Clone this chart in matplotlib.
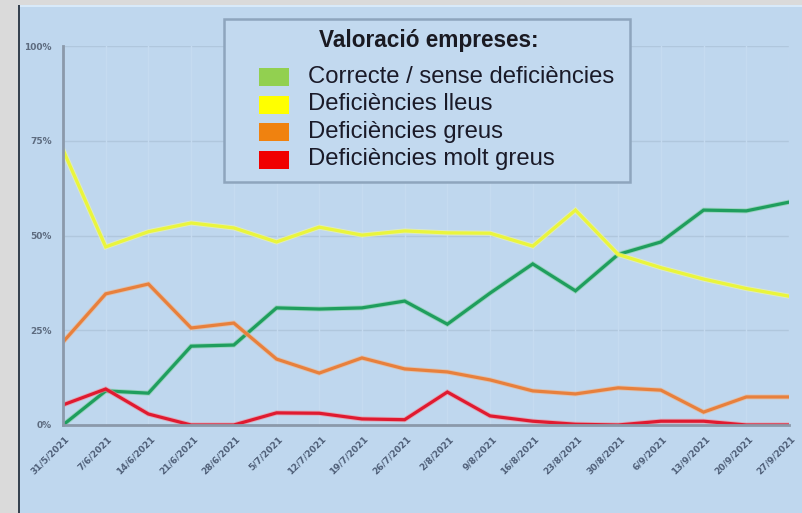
import matplotlib
matplotlib.use("Agg")
import matplotlib.pyplot as plt
from matplotlib.patches import Rectangle
from matplotlib.transforms import ScaledTranslation
import matplotlib.patheffects as pe

dates = ["31/5/2021", "7/6/2021", "14/6/2021", "21/6/2021", "28/6/2021", "5/7/2021",
         "12/7/2021", "19/7/2021", "26/7/2021", "2/8/2021", "9/8/2021", "16/8/2021",
         "23/8/2021", "30/8/2021", "6/9/2021", "13/9/2021", "20/9/2021", "27/9/2021"]

correcte = [0.0, 9.0, 8.4, 20.8, 21.1, 30.9, 30.6, 30.9, 32.7, 26.6, 34.8, 42.5,
            35.4, 45.0, 48.3, 56.7, 56.5, 58.8]
lleus = [72.6, 47.0, 51.0, 53.3, 52.0, 48.3, 52.2, 50.1, 51.2, 50.7, 50.6, 47.2,
         56.7, 45.0, 41.5, 38.5, 36.0, 34.0]
greus = [21.9, 34.6, 37.2, 25.6, 26.9, 17.4, 13.7, 17.7, 14.8, 14.0, 11.9, 9.0,
         8.2, 9.8, 9.2, 3.4, 7.4, 7.4]
molt_greus = [5.3, 9.5, 2.9, 0.0, 0.0, 3.2, 3.1, 1.6, 1.4, 8.7, 2.4, 1.0,
              0.2, 0.0, 1.0, 1.0, 0.0, 0.0]

yticks = [0, 25, 50, 75, 100]
ytick_labels = ["0%", "25%", "50%", "75%", "100%"]

legend_title = "Valoració empreses:"
legend_labels = ["Correcte / sense deficiències", "Deficiències lleus",
                 "Deficiències greus", "Deficiències molt greus"]
legend_colors = ["#92D050", "#FFFF00", "#F0820F", "#F00000"]

W, H = 802, 513
fig = plt.figure(figsize=(W / 100, H / 100), dpi=100)
fig.patch.set_facecolor("#dadada")

def px_rect(x0, y0, x1, y1, **kw):
    r = Rectangle((x0 / W, 1 - y1 / H), (x1 - x0) / W, (y1 - y0) / H,
                  transform=fig.transFigure, **kw)
    fig.add_artist(r)
    return r

# panel
px_rect(18, 5, 802, 513, facecolor="#bfd7ee", edgecolor="none", zorder=0)
px_rect(18, 5, 802, 7, facecolor="#d8eafa", edgecolor="none", zorder=0)
px_rect(18, 5, 20, 513, facecolor="#35414f", edgecolor="none", zorder=0)

ax = fig.add_axes([63 / W, 1 - 425 / H, (789 - 63) / W, (425 - 46) / H])
ax.set_facecolor("none")
x = list(range(len(dates)))
ax.set_xlim(0, len(dates) - 1)
ax.set_ylim(0, 100)

for yv in yticks[1:]:
    ax.axhline(yv, color="#b0c7dd", lw=1.0, zorder=1)
for xv in x[1:]:
    ax.axvline(xv, color="#c5dbf0", lw=1.0, zorder=1)

series = [(correcte, "#1f9e5e"), (lleus, "#eaf53c"), (greus, "#e8803c"), (molt_greus, "#e01a30")]
glow = ["#7fd0a0", "#f6fa9a", "#f0b58a", "#f08c96"]
for (vals, col), g in zip(series, glow):
    ax.plot(x, vals, color=col, lw=2.3, zorder=3, solid_joinstyle="miter",
            path_effects=[pe.Stroke(linewidth=3.6, foreground=g, alpha=0.6), pe.Normal()])

for s in ["top", "right"]:
    ax.spines[s].set_visible(False)
for s in ["left", "bottom"]:
    ax.spines[s].set_color("#8b99aa")
    ax.spines[s].set_linewidth(2.0)
    ax.spines[s].set_zorder(4)

ax.set_yticks(yticks)
ax.set_yticklabels(ytick_labels)
ax.tick_params(axis="y", length=0, pad=8, labelsize=6.5, labelcolor="#5d6b7f")
ax.set_xticks(x)
ax.set_xticklabels(dates, rotation=45, ha="right", va="center", rotation_mode="anchor")
ax.tick_params(axis="x", length=0, pad=9, labelsize=6.5, labelcolor="#4f5f78")
off = ScaledTranslation(5 / 100, 0, fig.dpi_scale_trans)
for lab in ax.get_xticklabels():
    lab.set_transform(lab.get_transform() + off)
    lab.set_fontweight("bold")
for lab in ax.get_yticklabels():
    lab.set_fontweight("bold")

# legend box
px_rect(224, 19, 630, 182, facecolor="#c2d9ef", edgecolor="#8ea5bd", linewidth=1.8, zorder=6)
fig.text(429 / W, 1 - 40 / H, legend_title, ha="center", va="center", fontsize=16.3,
         fontweight="bold", family="Liberation Sans", color="#1a1a22", zorder=7)
ys = [77, 104.5, 132, 159.5]
for yy, lab, col in zip(ys, legend_labels, legend_colors):
    px_rect(259, yy - 9, 289, yy + 9, facecolor=col, edgecolor="none", zorder=7)
    fig.text(308 / W, 1 - yy / H, lab, ha="left", va="center", fontsize=17.2,
             family="Liberation Sans", color="#1a1a28", zorder=7)

fig.savefig("out.png", dpi=100, facecolor=fig.get_facecolor())
